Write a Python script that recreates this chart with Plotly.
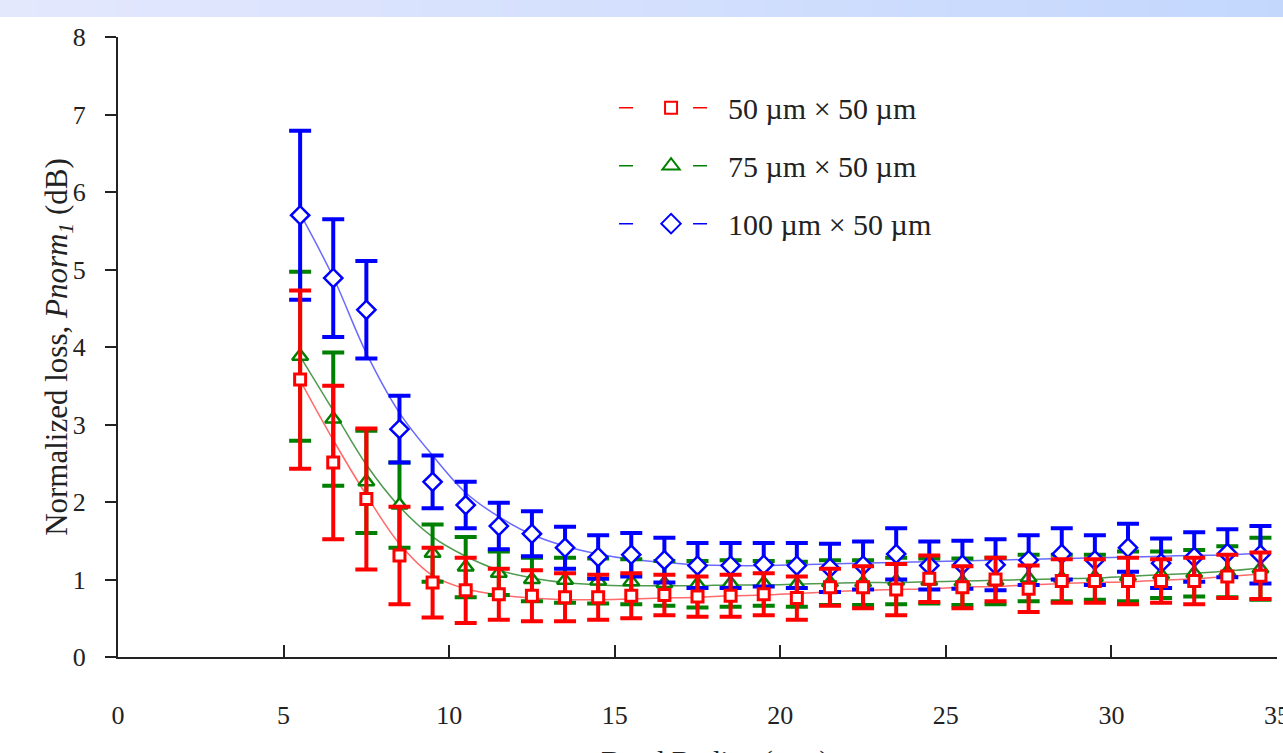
import plotly.graph_objects as go

# Bend radius (mm) of each measurement
radius = [5.5, 6.5, 7.5, 8.5, 9.5, 10.5, 11.5, 12.5, 13.5, 14.5,
          15.5, 16.5, 17.5, 18.5, 19.5, 20.5, 21.5, 22.5, 23.5, 24.5,
          25.5, 26.5, 27.5, 28.5, 29.5, 30.5, 31.5, 32.5, 33.5, 34.5]

# 50 um x 50 um waveguide: mean normalized loss (dB), error, trend curve
loss_50 = [3.58, 2.51, 2.04, 1.31, 0.96, 0.86, 0.81, 0.79, 0.77, 0.77,
           0.79, 0.80, 0.78, 0.79, 0.81, 0.76, 0.90, 0.90, 0.87, 1.01,
           0.90, 1.00, 0.88, 0.98, 0.98, 0.98, 0.98, 0.98, 1.04, 1.05]
err_50 = [1.15, 0.99, 0.91, 0.63, 0.45, 0.42, 0.33, 0.33, 0.31, 0.29,
          0.29, 0.26, 0.26, 0.27, 0.27, 0.28, 0.24, 0.27, 0.33, 0.30,
          0.27, 0.28, 0.30, 0.28, 0.28, 0.30, 0.28, 0.30, 0.28, 0.30]
trend_50 = [3.57, 2.80, 2.09, 1.46, 1.05, 0.88, 0.80, 0.76, 0.74, 0.74,
            0.75, 0.76, 0.77, 0.79, 0.80, 0.82, 0.84, 0.86, 0.87, 0.88,
            0.90, 0.91, 0.93, 0.95, 0.96, 0.97, 0.99, 1.01, 1.04, 1.07]

# 75 um x 50 um waveguide
loss_75 = [3.88, 3.07, 2.26, 1.96, 1.34, 1.16, 1.08, 1.00, 0.99, 0.98,
           0.97, 0.95, 0.94, 0.95, 0.95, 0.94, 0.96, 0.96, 0.98, 0.98,
           0.97, 0.98, 1.02, 1.02, 1.03, 1.04, 1.06, 1.08, 1.10, 1.14]
err_75 = [1.09, 0.86, 0.66, 0.55, 0.37, 0.39, 0.28, 0.28, 0.29, 0.29,
          0.29, 0.29, 0.30, 0.30, 0.29, 0.29, 0.29, 0.29, 0.30, 0.29,
          0.30, 0.30, 0.30, 0.30, 0.29, 0.32, 0.30, 0.30, 0.33, 0.40]
trend_75 = [3.88, 3.18, 2.48, 1.94, 1.55, 1.30, 1.12, 1.02, 0.96, 0.93,
            0.92, 0.92, 0.92, 0.93, 0.93, 0.94, 0.95, 0.96, 0.96, 0.97,
            0.98, 0.99, 1.00, 1.01, 1.02, 1.04, 1.06, 1.08, 1.11, 1.15]

# 100 um x 50 um waveguide
loss_100 = [5.70, 4.89, 4.48, 2.94, 2.26, 1.96, 1.69, 1.59, 1.41, 1.29,
            1.32, 1.25, 1.18, 1.18, 1.19, 1.18, 1.15, 1.18, 1.33, 1.18,
            1.19, 1.19, 1.25, 1.33, 1.25, 1.41, 1.21, 1.29, 1.34, 1.32]
err_100 = [1.09, 0.76, 0.63, 0.43, 0.34, 0.30, 0.30, 0.29, 0.27, 0.28,
           0.28, 0.29, 0.29, 0.29, 0.28, 0.29, 0.31, 0.31, 0.33, 0.31,
           0.31, 0.33, 0.32, 0.33, 0.32, 0.31, 0.32, 0.32, 0.31, 0.37]
trend_100 = [5.72, 4.90, 3.92, 3.15, 2.60, 2.12, 1.81, 1.58, 1.43, 1.33,
             1.26, 1.22, 1.19, 1.18, 1.18, 1.19, 1.20, 1.21, 1.22, 1.23,
             1.24, 1.25, 1.26, 1.27, 1.28, 1.29, 1.30, 1.31, 1.32, 1.34]

labels = ["50 \u00b5m \u00d7 50 \u00b5m", "75 \u00b5m \u00d7 50 \u00b5m",
          "100 \u00b5m \u00d7 50 \u00b5m"]

FONT = "Times New Roman, Liberation Serif, serif"
TEXT = "#222222"

series = [
    # label, y, err, trend, symbol, size, outline, colour, trend colour, legend rank
    (labels[1], loss_75, err_75, trend_75, "triangle-up", 14, 2.5, "#008000", "#4e9a4e", 2),
    (labels[2], loss_100, err_100, trend_100, "diamond", 14, 2.5, "#0000ff", "#6a6aff", 3),
    (labels[0], loss_50, err_50, trend_50, "square", 11, 3, "#ff0000", "#ff6a6a", 1),
]

fig = go.Figure()

# smooth trend curves underneath the measurements
for name, y, e, tr, sym, sz, lw, col, tcol, rank in series:
    fig.add_trace(go.Scatter(
        x=radius, y=tr, mode="lines", line=dict(color=tcol, width=1.5, shape="spline"),
        showlegend=False, hoverinfo="skip"))

# measured points with error bars
for name, y, e, tr, sym, sz, lw, col, tcol, rank in series:
    fig.add_trace(go.Scatter(
        x=radius, y=y, mode="markers", name=name, legendgroup=name, showlegend=False,
        marker=dict(symbol=sym, size=sz, color="white", line=dict(color=col, width=lw)),
        error_y=dict(type="data", array=e, visible=True, color=col, thickness=4, width=11)))

# legend entries drawn as  —  marker  —
for name, y, e, tr, sym, sz, lw, col, tcol, rank in series:
    fig.add_trace(go.Scatter(
        x=[None], y=[None], mode="lines+markers", name=name, legendgroup=name,
        legendrank=rank,
        line=dict(color=col, width=1.5, dash="14px,60px,14px,60px"),
        marker=dict(symbol=sym, size=sz + 1, color="white", line=dict(color=col, width=2))))

# header band across the top of the page
n_strips = 64
x_left, x_right = -0.105, 1.01
c0 = (228, 232, 253)
c1 = (195, 215, 253)
shapes = []
for i in range(n_strips):
    t = i / (n_strips - 1)
    r = round(c0[0] + (c1[0] - c0[0]) * t)
    g = round(c0[1] + (c1[1] - c0[1]) * t)
    b = round(c0[2] + (c1[2] - c0[2]) * t)
    xa = x_left + (x_right - x_left) * i / n_strips
    xb = x_left + (x_right - x_left) * (i + 1) / n_strips + 0.002
    shapes.append(dict(type="rect", xref="paper", yref="paper", x0=xa, x1=xb,
                       y0=1.0323, y1=1.08, fillcolor=f"rgb({r},{g},{b})",
                       line=dict(width=0), layer="below"))

fig.update_layout(
    width=1283, height=753,
    margin=dict(l=118, r=6, t=37, b=96, autoexpand=False),
    paper_bgcolor="white", plot_bgcolor="white",
    font=dict(family=FONT, size=26, color=TEXT),
    shapes=shapes,
    showlegend=True,
    legend=dict(x=0.428, y=0.928, xanchor="left", yanchor="top",
                bgcolor="rgba(0,0,0,0)", traceorder="grouped", tracegroupgap=16,
                itemwidth=104,
                font=dict(family=FONT, size=30, color=TEXT)),
    xaxis=dict(range=[0, 35], tick0=0, dtick=5, showgrid=False, zeroline=False,
               showline=True, linecolor=TEXT, linewidth=2, automargin=False,
               ticks="inside", ticklen=12, tickwidth=1.5, tickcolor=TEXT,
               ticklabelstandoff=34, ticklabeloverflow="allow"),
    yaxis=dict(range=[0, 8], tick0=0, dtick=1, showgrid=False, zeroline=False,
               showline=True, linecolor=TEXT, linewidth=2, automargin=False,
               ticks="outside", ticklen=11, tickwidth=1.5, tickcolor=TEXT,
               ticklabelstandoff=14),
    annotations=[
        dict(text="Normalized loss, <i>Pnorm</i><sub><i>1</i></sub> (dB)",
             xref="paper", yref="paper", x=-0.070, y=0.5, textangle=-90,
             showarrow=False, font=dict(family=FONT, size=31, color=TEXT)),
        dict(text="Bend Radius (mm)", xref="paper", yref="paper", x=0.515, y=-0.168,
             yanchor="middle", showarrow=False,
             font=dict(family=FONT, size=30, color=TEXT)),
    ],
)

fig.write_html("out.html")
